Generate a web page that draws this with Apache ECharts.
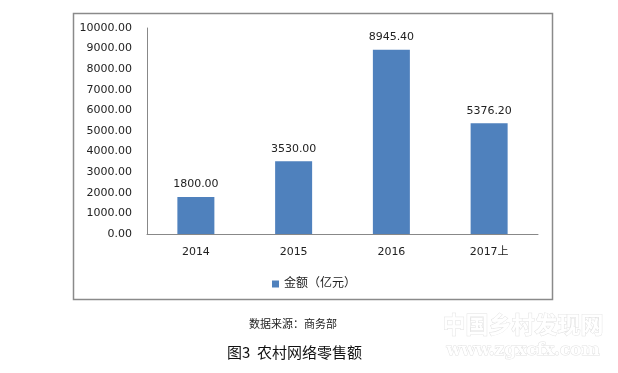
<!DOCTYPE html>
<html><head><meta charset="utf-8">
<script src="https://cdn.jsdelivr.net/npm/echarts@6/dist/echarts.min.js"></script>
<style>html,body{margin:0;padding:0;background:#fff}#c{width:618px;height:373px}</style>
</head><body><div id="c"></div>
<script>
var categories = ['2014', '2015', '2016', '2017上'];
var values = [1800.00, 3530.00, 8945.40, 5376.20];
var seriesName = '金额（亿元）';
var yTicks = { min: 0, max: 10000, interval: 1000 };
var sourceText = '数据来源：商务部';
var captionText = '图3  农村网络零售额';

var FONT = '"DejaVu Sans", "Noto Sans CJK SC", sans-serif';
var chart = echarts.init(document.getElementById('c'), null, {renderer: 'canvas'});
chart.setOption({
  animation: false,
  backgroundColor: '#fff',
  grid: { left: 147, right: 80, top: 28, bottom: 139, containLabel: false },
  legend: {
    data: [seriesName], left: 267, top: 273, icon: 'rect', itemWidth: 7, itemHeight: 7, itemGap: 6,
    textStyle: { fontFamily: FONT, fontSize: 12, color: '#222' }
  },
  xAxis: {
    type: 'category', data: categories,
    axisLine: { lineStyle: { color: '#888', width: 1 } },
    axisTick: { show: false },
    axisLabel: { fontFamily: FONT, fontSize: 11, color: '#222', margin: 13 }
  },
  yAxis: {
    type: 'value', min: yTicks.min, max: yTicks.max, interval: yTicks.interval,
    axisLine: { show: true, lineStyle: { color: '#888', width: 1 } },
    axisTick: { show: false },
    splitLine: { show: false },
    axisLabel: { fontFamily: FONT, fontSize: 11, color: '#222', margin: 15,
      formatter: function (v) { return v.toFixed(2); } }
  },
  series: [{
    name: seriesName, type: 'bar', data: values, barWidth: 37,
    itemStyle: { color: '#4F81BD' },
    label: { show: true, position: 'top', distance: 7, fontFamily: FONT, fontSize: 11, color: '#222',
      formatter: function (p) { return p.value.toFixed(2); } }
  }],
  graphic: [
    { type: 'rect', shape: { x: 73.5, y: 13.5, width: 479, height: 286 }, silent: true, z: -1,
      style: { fill: 'none', stroke: '#8a8a8a', lineWidth: 1.5 } },
    { type: 'text', left: 249, top: 318, style: { text: sourceText, font: '11px "Noto Sans CJK SC", sans-serif', fill: '#222' } },
    { type: 'text', left: 227, top: 345, style: { text: captionText, font: '15px "Noto Sans CJK SC", sans-serif', fill: '#111' } },
    { type: 'text', left: 442, top: 312, style: { text: '中国乡村发现网', font: 'bold 23px "Noto Sans CJK SC", sans-serif', fill: '#fff', stroke: '#e2e2e2', lineWidth: 1 } },
    { type: 'text', left: 446, top: 342, style: { text: 'www.zgxcfx.com', font: 'bold 17px "DejaVu Serif", serif', fill: '#fff', stroke: '#e2e2e2', lineWidth: 1 } }
  ]
});
</script></body></html>
